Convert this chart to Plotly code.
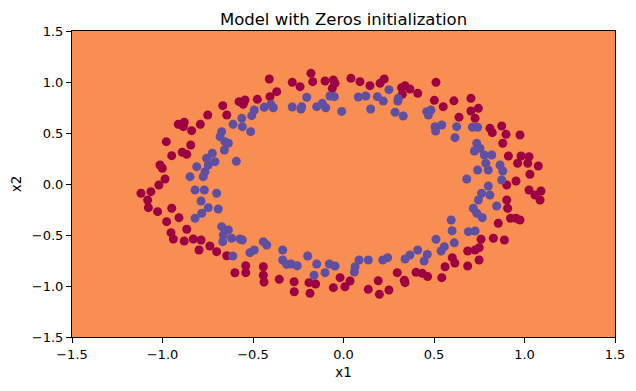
import plotly.graph_objects as go

# Class 0 (outer ring, dark red)
red_x = [-0.667, -0.645, -0.750, -0.913, -0.880, -0.885, -0.839, -0.791, -0.979, -0.844,
         -0.949, -0.891, -0.866, -1.014, -1.001, -0.986, -1.020,
         -0.410, -0.283, -0.240, -0.180, -0.170, -0.102, -0.056, -0.047, -0.062, -0.369,
         -0.406, -0.476, -0.544, -0.577, -0.554,
         0.041, 0.091, 0.146, 0.202, 0.225, 0.321, 0.340, 0.367, 0.410, 0.325, 0.511,
         0.502, 0.551, 0.610,
         0.704, 0.638, 0.704, 0.745, 0.727, 0.809, 0.822, 0.874, 0.898, 0.975, 0.880,
         0.911, 0.981, 1.025, 0.962, 1.018, 1.076, 1.030, 0.953, 0.902,
         -1.119, -1.064, -1.082, -1.078, -1.027, -0.949, -0.977, -0.909, -0.866, -0.953,
         -0.940, -0.880, -0.830, -0.787, -0.798, -0.738, -0.701, -0.645, -0.600,
         -0.540, -0.540, -0.443, -0.443, -0.439, -0.355, -0.273, -0.272, -0.191, -0.154,
         -0.185, -0.056, -0.019, 0.008,
         0.036, 0.137, 0.192, 0.198, 0.251, 0.297, 0.336, 0.340, 0.401, 0.435, 0.465,
         0.543, 0.561, 0.601,
         1.025, 1.091, 1.058, 1.086, 0.902, 0.907, 0.923, 0.953, 0.975, 0.855, 0.828,
         0.889, 0.760, 0.750, 0.727, 0.686, 0.749, 0.686, 0.615]
red_y = [0.768, 0.676, 0.676, 0.585, 0.605, 0.562, 0.523, 0.585, 0.415, 0.382,
         0.278, 0.311, 0.291, 0.186, 0.154, 0.049, -0.010,
         1.029, 0.997, 0.954, 1.085, 1.003, 1.010, 1.020, 0.987, 0.938, 0.905,
         0.856, 0.830, 0.824, 0.807, 0.781,
         1.036, 1.003, 0.964, 0.987, 1.029, 0.944, 0.964, 0.931, 0.889, 0.879, 0.997,
         0.820, 0.758, 0.815,
         0.840, 0.655, 0.716, 0.742, 0.644, 0.546, 0.503, 0.569, 0.487, 0.480, 0.399,
         0.275, 0.275, 0.268, 0.203, 0.203, 0.176, 0.095, 0.029, -0.010,
         -0.091, -0.075, -0.157, -0.232, -0.271, -0.238, -0.369, -0.330, -0.444, -0.477,
         -0.539, -0.559, -0.539, -0.549, -0.647, -0.608, -0.663, -0.703, -0.870,
         -0.801, -0.869, -0.811, -0.895, -0.961, -0.935, -0.958, -1.056, -0.967, -0.980,
         -1.072, -1.016, -0.918, -1.007,
         -0.951, -1.033, -0.948, -1.082, -1.039, -0.869, -0.944, -0.967, -0.866, -0.876, -0.908,
         -0.918, -0.811, -0.722,
         -0.059, -0.069, -0.108, -0.157, -0.157, -0.238, -0.336, -0.336, -0.353, -0.385, -0.532,
         -0.549, -0.542, -0.624, -0.647, -0.657, -0.745, -0.804, -0.775]

# Class 1 (inner ring, purple-blue)
blue_x = [-0.610, -0.673, -0.682, -0.655, -0.636, -0.658, -0.725, -0.756, -0.710, -0.747,
          -0.811, -0.765, -0.775, -0.848, -0.592,
          -0.203, -0.075, -0.051, -0.401, -0.388, -0.438, -0.283, -0.231, -0.235, -0.148,
          -0.117, -0.098, -0.010, -0.493, -0.507, -0.562, -0.559, -0.513,
          0.251, 0.082, 0.123, 0.187, 0.220, 0.303, 0.300, 0.150, 0.285, 0.330, 0.460,
          0.483, 0.469, 0.506, 0.543, 0.509, 0.616,
          0.625, 0.712, 0.741, 0.736, 0.754, 0.723, 0.778, 0.819, 0.786, 0.741, 0.800,
          0.865, 0.880, 0.681, 0.800, 0.874,
          -0.820, -0.769, -0.701, -0.787, -0.747, -0.692, -0.783, -0.820, -0.673, -0.636,
          -0.664, -0.618, -0.667, -0.612,
          -0.572, -0.559, -0.517, -0.493, -0.443, -0.424, -0.336, -0.336, -0.314, -0.290,
          -0.256, -0.198, -0.148, -0.163, -0.102, -0.078, -0.047,
          0.064, 0.086, 0.060, 0.137, 0.217, 0.244, 0.340, 0.367, 0.410, 0.445, 0.463,
          0.511, 0.539, 0.557, 0.595, 0.600, 0.612,
          0.763, 0.809, 0.745, 0.717, 0.736, 0.767, 0.846, 0.690, 0.727]
blue_y = [0.585, 0.513, 0.464, 0.415, 0.399, 0.333, 0.301, 0.252, 0.219, 0.186,
          0.170, 0.121, 0.072, 0.072, 0.222,
          0.850, 0.863, 0.856, 0.781, 0.748, 0.752, 0.755, 0.758, 0.735, 0.758,
          0.791, 0.748, 0.712, 0.725, 0.670, 0.644, 0.562, 0.513,
          0.925, 0.853, 0.863, 0.856, 0.814, 0.840, 0.814, 0.735, 0.703, 0.667, 0.709,
          0.725, 0.676, 0.562, 0.578, 0.520, 0.454,
          0.562, 0.556, 0.556, 0.399, 0.350, 0.324, 0.284, 0.284, 0.203, 0.137, 0.137,
          0.186, 0.127, 0.049, -0.020, 0.039,
          -0.059, -0.059, -0.091, -0.167, -0.232, -0.245, -0.287, -0.336, -0.418, -0.450,
          -0.500, -0.532, -0.565, -0.706,
          -0.539, -0.549, -0.673, -0.647, -0.565, -0.598, -0.647, -0.745, -0.788, -0.784,
          -0.801, -0.706, -0.784, -0.895, -0.869, -0.784, -0.804,
          -0.811, -0.745, -0.863, -0.745, -0.745, -0.722, -0.735, -0.696, -0.647, -0.755, -0.690,
          -0.542, -0.657, -0.614, -0.353, -0.458, -0.577,
          -0.091, -0.108, -0.157, -0.238, -0.287, -0.330, -0.216, -0.467, -0.461]

tick_vals = [-1.5, -1.0, -0.5, 0.0, 0.5, 1.0, 1.5]
tick_text = ["\u22121.5", "\u22121.0", "\u22120.5", "0.0", "0.5", "1.0", "1.5"]

BG = "#f98e52"
RED = "#9e0142"
BLUE = "#5e4fa2"
FONT = "DejaVu Sans"

W, H = 628, 383  # page body has an 8px default margin

fig = go.Figure()
fig.add_trace(go.Scatter(x=red_x, y=red_y, mode="markers",
                         marker=dict(color=RED, size=9, line=dict(width=0)),
                         showlegend=False))
fig.add_trace(go.Scatter(x=blue_x, y=blue_y, mode="markers",
                         marker=dict(color=BLUE, size=9, line=dict(width=0)),
                         showlegend=False))

axis_common = dict(
    showgrid=False, zeroline=False, showline=True, linecolor="black", linewidth=1,
    mirror=True, ticks="outside", ticklen=5, tickcolor="black", tickwidth=1,
    tickvals=tick_vals, ticktext=tick_text, automargin=False,
    tickfont=dict(family=FONT, size=13, color="black"),
)

fig.update_layout(
    width=W, height=H,
    margin=dict(l=64, r=21, t=23, b=54, autoexpand=False),
    paper_bgcolor="white", plot_bgcolor=BG,
    font=dict(family=FONT, color="black"),
    title=dict(text="Model with Zeros initialization", x=0.5, xref="paper",
               xanchor="center", y=1 - 11 / H, yref="container", yanchor="middle",
               font=dict(family=FONT, size=16.5, color="black")),
    xaxis=dict(range=[-1.5, 1.5], title=dict(text="x1", font=dict(family=FONT, size=13.5), standoff=6),
               **axis_common),
    yaxis=dict(range=[-1.5, 1.5], title=dict(text="x2", font=dict(family=FONT, size=13.5), standoff=8),
               **axis_common),
)

fig.write_html("out.html")
